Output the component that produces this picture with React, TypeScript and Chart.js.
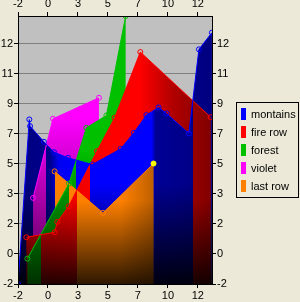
import React, { useEffect, useRef } from 'react';
import { Chart, registerables } from 'chart.js';

Chart.register(...registerables);

// ---- data ----
const seriesNames = ['montains', 'fire row', 'forest', 'violet', 'last row'];
const seriesColors = ['#0000ff', '#ff0000', '#00c000', '#ff00ff', '#ff8000'];

const montainsX = [-2, -1.12, -1.06, 0.02, 0.8, 1.89, 3.79, 5.99, 7.02, 7.99, 8.94, 9.56, 11.3, 12.08, 13.09];
const montainsY = [-2, 7.86, 7.46, 6.52, 5.9, 5.56, 5.16, 6.1, 7.06, 8.12, 8.58, 8.22, 7.02, 12.06, 13.06];
const fireRowX = [-1.35, 0.85, 1.06, 1.94, 4.14, 5.52, 7.52, 12.99];
const fireRowY = [0.8, 1.1, 1.72, 2.66, 5.96, 7.96, 11.9, 8.0];
const forestX = [-1.27, 1.97, 3.32, 4.88, 6.38];
const forestY = [-0.48, 4.02, 7.36, 8.1, 14.06];
const violetX = [-0.83, 0.72, 4.3];
const violetY = [3.16, 7.9, 9.16];
const lastRowX = [0.85, 4.61, 8.55];
const lastRowY = [4.75, 2.26, 5.22];

const seriesX = [montainsX, fireRowX, forestX, violetX, lastRowX];
const seriesY = [montainsY, fireRowY, forestY, violetY, lastRowY];

const xTickValues = [-2, 0.333, 2.667, 5, 7.333, 9.667, 12];
const xTickLabels = ['-2', '0', '3', '5', '7', '10', '12'];
const yTickValues = [-2, -0.2, 1.6, 3.4, 5.2, 7, 8.8, 10.6, 12.4];
const yTickLabels = ['-2', '0', '2', '3', '5', '7', '9', '11', '12'];
const xMin = -2, xMax = 13.1, yMin = -2, yMax = 14.06;

// ---- fill shading (style) ----
// vertical brightness stops [y, factor] and horizontal darkening stops [x, alpha]
const shadeV: number[][][] = [
  [[13, 1], [4, 1], [-2, 0.1]],
  [[12, 1], [3, 1], [-2, 0.15]],
  [[14, 1], [6, 1], [-2, 0.25]],
  [[9.2, 1], [8, 1], [-2, 0.3]],
  [[5.3, 1], [3, 1], [-2, 0.18]],
];
const shadeH: number[][][] = [
  [[-2, 0.5], [0.5, 0.45], [1.2, 0.05], [3, 0], [8.4, 0], [8.7, 0.42], [10, 0.44], [13.1, 0.5]],
  [[-2, 0.15], [1, 0.1], [5, 0], [7.5, 0], [10, 0.3], [13.1, 0.5]],
  [],
  [],
  [[0.85, 0], [6, 0], [8.55, 0.25]],
];

const FONT = '"Liberation Sans", Arial, sans-serif';

function valAt(i: number, x: number) {
  const xs = seriesX[i], ys = seriesY[i];
  for (let k = 0; k < xs.length - 1; k++) {
    if (x >= xs[k] && x <= xs[k + 1]) {
      const t = (x - xs[k]) / (xs[k + 1] - xs[k]);
      return ys[k] + t * (ys[k + 1] - ys[k]);
    }
  }
  return NaN;
}
function active(i: number, x: number) {
  const xs = seriesX[i];
  return x >= xs[0] && x <= xs[xs.length - 1];
}

function shade(hex: string, f: number) {
  const r = parseInt(hex.slice(1, 3), 16), g = parseInt(hex.slice(3, 5), 16), b = parseInt(hex.slice(5, 7), 16);
  return `rgb(${Math.round(r * f)},${Math.round(g * f)},${Math.round(b * f)})`;
}

const bgPlugin = {
  id: 'plotBg',
  beforeDraw(chart: any) {
    const { ctx, chartArea: a } = chart;
    ctx.save();
    ctx.fillStyle = '#c0c0c0';
    ctx.fillRect(a.left, a.top, a.right - a.left, a.bottom - a.top);
    ctx.restore();
  },
};

const layerPlugin = {
  id: 'layerFill',
  beforeDatasetsDraw(chart: any) {
    const { ctx, chartArea: area, scales } = chart;
    const X = (v: number) => scales.x.getPixelForValue(v);
    const Y = (v: number) => scales.y.getPixelForValue(v);
    const n = seriesX.length;
    let bps = Array.from(new Set(seriesX.flat())).sort((a, b) => a - b);
    const extra: number[] = [];
    for (let k = 0; k < bps.length - 1; k++) {
      const a = bps[k], b = bps[k + 1], m = (a + b) / 2;
      const act = [...Array(n).keys()].filter((i) => active(i, m));
      for (let p = 0; p < act.length; p++)
        for (let q = p + 1; q < act.length; q++) {
          const da = valAt(act[p], a) - valAt(act[q], a);
          const db = valAt(act[p], b) - valAt(act[q], b);
          if (da * db < 0) extra.push(a + ((b - a) * da) / (da - db));
        }
    }
    bps = [...bps, ...extra].sort((a, b) => a - b);

    const grads = seriesColors.map((c, i) => {
      const st = shadeV[i];
      const y0 = Y(st[0][0]), y1 = Y(st[st.length - 1][0]);
      const g = ctx.createLinearGradient(0, y0, 0, y1);
      st.forEach(([v, f]) => g.addColorStop(Math.min(1, Math.max(0, (Y(v) - y0) / (y1 - y0))), shade(c, f)));
      return g;
    });
    const overlays = shadeH.map((st) => {
      if (!st.length) return null;
      const x0 = X(st[0][0]), x1 = X(st[st.length - 1][0]);
      const g = ctx.createLinearGradient(x0, 0, x1, 0);
      st.forEach(([v, a]) => g.addColorStop(Math.min(1, Math.max(0, (X(v) - x0) / (x1 - x0))), `rgba(0,0,0,${a})`));
      return g;
    });

    ctx.save();
    ctx.beginPath();
    ctx.rect(area.left, area.top, area.right - area.left, area.bottom - area.top);
    ctx.clip();
    for (let k = 0; k < bps.length - 1; k++) {
      const a = bps[k], b = bps[k + 1];
      const L = Math.round(X(a)), R = Math.round(X(b));
      if (R <= L) continue;
      const m = (a + b) / 2;
      const order = [...Array(n).keys()].filter((i) => active(i, m)).sort((p, q) => valAt(q, m) - valAt(p, m));
      for (const i of order) {
        ctx.save();
        ctx.beginPath();
        ctx.rect(L, area.top, R - L, area.bottom - area.top);
        ctx.clip();
        const xs = seriesX[i], ys = seriesY[i];
        ctx.beginPath();
        ctx.moveTo(X(xs[0]), area.bottom);
        for (let j = 0; j < xs.length; j++) ctx.lineTo(X(xs[j]), Y(ys[j]));
        ctx.lineTo(X(xs[xs.length - 1]), area.bottom);
        ctx.closePath();
        ctx.fillStyle = grads[i];
        ctx.fill();
        if (overlays[i]) {
          ctx.fillStyle = overlays[i];
          ctx.fill();
        }
        ctx.restore();
      }
    }
    ctx.restore();
  },
};

function xAxis(position: string) {
  return {
    type: 'linear',
    position,
    min: xMin,
    max: xMax,
    afterBuildTicks: (s: any) => { s.ticks = xTickValues.map((v) => ({ value: v })); },
    afterFit: (s: any) => { s.height = position === 'top' ? 16 : 18; },
    ticks: { autoSkip: false, maxRotation: 0, minRotation: 0, padding: 1, color: '#000', font: { family: FONT, size: 11 }, callback: (_v: any, i: number) => xTickLabels[i] },
    grid: { drawOnChartArea: false, drawTicks: true, tickLength: 4, tickColor: '#000', color: '#000' },
    border: { display: true, color: '#000', width: 1, z: 1 },
  };
}
function yAxis(position: string) {
  return {
    type: 'linear',
    position,
    min: yMin,
    max: yMax,
    afterBuildTicks: (s: any) => { s.ticks = yTickValues.map((v) => ({ value: v })); },
    afterFit: (s: any) => { s.width = 18; },
    ticks: { autoSkip: false, padding: 1, color: '#000', font: { family: FONT, size: 11 }, callback: (_v: any, i: number) => yTickLabels[i] },
    grid: { drawOnChartArea: position === 'left', drawTicks: true, tickLength: 4, tickColor: '#000', color: '#808080' },
    border: { display: true, color: '#000', width: 1, z: 1 },
  };
}

export default function App() {
  const ref = useRef<HTMLCanvasElement | null>(null);
  useEffect(() => {
    document.body.style.margin = '0';
    document.body.style.background = '#ece9d8';
    const canvas = ref.current!;
    const chart = new Chart(canvas, {
      type: 'line',
      data: {
        datasets: seriesNames.map((name, i) => ({
          label: name,
          data: seriesX[i].map((x, k) => ({ x, y: seriesY[i][k] })),
          borderColor: seriesColors[i],
          borderWidth: 1,
          pointRadius: 2.5,
          pointBorderWidth: 1,
          pointBorderColor: i === 4 ? seriesX[i].map((_x, k) => (k === seriesX[i].length - 1 ? '#ffff00' : seriesColors[i])) : seriesColors[i],
          pointBackgroundColor: i === 4 ? seriesX[i].map((_x, k) => (k === seriesX[i].length - 1 ? '#ffff00' : 'rgba(0,0,0,0)')) : 'rgba(0,0,0,0)',
          fill: false,
          tension: 0,
        })),
      },
      options: {
        responsive: false,
        animation: false,
        events: [],
        layout: { padding: { left: 0, top: 0, right: 70, bottom: 0 } },
        plugins: { legend: { display: false }, tooltip: { enabled: false } },
        scales: {
          x: xAxis('bottom'),
          x2: xAxis('top'),
          y: yAxis('left'),
          y2: yAxis('right'),
        } as any,
      },
      plugins: [bgPlugin, layerPlugin],
    } as any);
    return () => chart.destroy();
  }, []);

  return (
    <div style={{ position: 'relative', width: 300, height: 302, background: '#ece9d8', overflow: 'hidden' }}>
      <canvas ref={ref} width={300} height={302} style={{ display: 'block' }} />
      <div style={{ position: 'absolute', left: 236, top: 102, width: 61, height: 94, border: '1px solid #000', fontFamily: FONT, fontSize: 11, color: '#000' }}>
        {seriesNames.map((name, i) => (
          <div key={name} style={{ position: 'absolute', left: 4, top: 5 + i * 18, height: 12, display: 'flex', alignItems: 'center', whiteSpace: 'nowrap' }}>
            <span style={{ display: 'inline-block', width: 5, height: 12, background: seriesColors[i], marginRight: 5 }} />
            <span style={{ lineHeight: '12px' }}>{name}</span>
          </div>
        ))}
      </div>
    </div>
  );
}
